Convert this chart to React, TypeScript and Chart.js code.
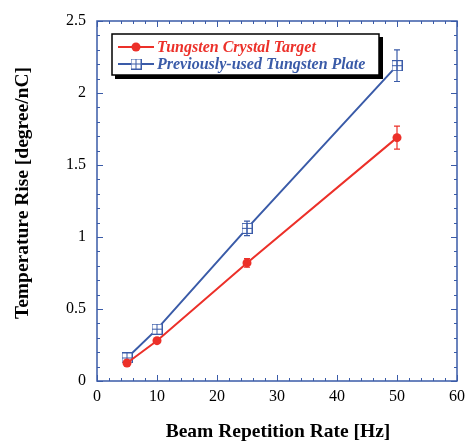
import React, { useEffect, useRef } from "react";
import { Chart, registerables } from "chart.js";
Chart.register(...registerables);

const rates = [5, 10, 25, 50];
const crystalRise = [0.125, 0.28, 0.82, 1.69];
const crystalErr = [0, 0, 0.03, 0.08];
const plateRise = [0.16, 0.36, 1.06, 2.19];
const plateErr = [0, 0, 0.05, 0.11];
const seriesNames = ["Tungsten Crystal Target", "Previously-used Tungsten Plate"];
const xTitle = "Beam Repetition Rate [Hz]";
const yTitle = "Temperature Rise [degree/nC]";

const RED = "#ec3029";
const BLUE = "#3a5ba8";
const SERIF = "'Liberation Serif', 'Times New Roman', serif";

function makeSquare(): HTMLCanvasElement {
  const c = document.createElement("canvas");
  c.width = 11;
  c.height = 11;
  const g = c.getContext("2d")!;
  g.fillStyle = "#ffffff";
  g.fillRect(0, 0, 11, 11);
  g.strokeStyle = BLUE;
  g.lineWidth = 1;
  g.strokeRect(0.5, 0.5, 10, 10);
  g.beginPath();
  g.moveTo(5.5, 0.5);
  g.lineTo(5.5, 10.5);
  g.moveTo(0.5, 5.5);
  g.lineTo(10.5, 5.5);
  g.stroke();
  return c;
}

export default function App() {
  const ref = useRef<HTMLCanvasElement>(null);
  useEffect(() => {
    const square = makeSquare();
    const errs = [crystalErr, plateErr];
    const colors = [RED, BLUE];

    const framePlugin = {
      id: "frame",
      afterDatasetsDraw(chart: any) {
        const ctx = chart.ctx;
        const xs = chart.scales.x;
        const ys = chart.scales.y;
        ctx.save();
        errs.forEach((arr, di) => {
          const vals = di === 0 ? crystalRise : plateRise;
          ctx.strokeStyle = colors[di];
          ctx.lineWidth = 1.2;
          arr.forEach((e, i) => {
            if (!e) return;
            const x = xs.getPixelForValue(rates[i]);
            const y1 = ys.getPixelForValue(vals[i] - e);
            const y2 = ys.getPixelForValue(vals[i] + e);
            ctx.beginPath();
            ctx.moveTo(x, y1);
            ctx.lineTo(x, y2);
            ctx.moveTo(x - 3, y1);
            ctx.lineTo(x + 3, y1);
            ctx.moveTo(x - 3, y2);
            ctx.lineTo(x + 3, y2);
            ctx.stroke();
          });
        });
        ctx.restore();
      },
      afterDraw(chart: any) {
        const ctx = chart.ctx;
        const { left, right, top, bottom } = chart.chartArea;
        const xs = chart.scales.x;
        const ys = chart.scales.y;
        ctx.save();
        ctx.strokeStyle = BLUE;
        ctx.lineWidth = 1.5;
        ctx.strokeRect(left, top, right - left, bottom - top);
        ctx.lineWidth = 1;
        ctx.beginPath();
        for (let v = 0; v <= 60; v += 2) {
          const x = Math.round(xs.getPixelForValue(v)) + 0.5;
          const len = v % 10 === 0 ? 6 : 3;
          ctx.moveTo(x, bottom);
          ctx.lineTo(x, bottom - len);
          ctx.moveTo(x, top);
          ctx.lineTo(x, top + len);
        }
        for (let k = 0; k <= 25; k++) {
          const v = k / 10;
          const y = Math.round(ys.getPixelForValue(v)) + 0.5;
          const len = k % 5 === 0 ? 6 : 3;
          ctx.moveTo(left, y);
          ctx.lineTo(left + len, y);
          ctx.moveTo(right, y);
          ctx.lineTo(right - len, y);
        }
        ctx.stroke();

        // axis titles
        ctx.fillStyle = "#000";
        ctx.font = `bold 19.5px ${SERIF}`;
        ctx.textAlign = "center";
        ctx.textBaseline = "alphabetic";
        ctx.fillText(xTitle, (left + right) / 2 + 1, 437);
        ctx.save();
        ctx.translate(28, 193);
        ctx.rotate(-Math.PI / 2);
        ctx.fillText(yTitle, 0, 0);
        ctx.restore();

        // legend
        const bx = 112, by = 34, bw = 267, bh = 41;
        ctx.fillStyle = "#000";
        ctx.fillRect(bx + 3, by + 3, bw + 1, bh + 1);
        ctx.fillStyle = "#fff";
        ctx.fillRect(bx, by, bw, bh);
        ctx.strokeStyle = "#000";
        ctx.lineWidth = 1.5;
        ctx.strokeRect(bx, by, bw, bh);
        const rows = [47, 64];
        ctx.font = `italic bold 16px ${SERIF}`;
        ctx.textAlign = "left";
        ctx.textBaseline = "middle";
        rows.forEach((ry, i) => {
          ctx.strokeStyle = colors[i];
          ctx.lineWidth = 2;
          ctx.beginPath();
          ctx.moveTo(118, ry);
          ctx.lineTo(154, ry);
          ctx.stroke();
          if (i === 0) {
            ctx.fillStyle = RED;
            ctx.beginPath();
            ctx.arc(136, ry, 4.5, 0, Math.PI * 2);
            ctx.fill();
          } else {
            ctx.drawImage(square, 136 - 5.5, ry - 5.5);
          }
          ctx.fillStyle = colors[i];
          ctx.fillText(seriesNames[i], 157, ry + 1);
        });
        ctx.restore();
      },
    };

    const chart = new Chart(ref.current!, {
      type: "line",
      data: {
        datasets: [
          {
            label: seriesNames[0],
            data: rates.map((x, i) => ({ x, y: crystalRise[i] })),
            borderColor: RED,
            backgroundColor: RED,
            borderWidth: 2,
            pointStyle: "circle",
            pointRadius: 4.5,
            pointBorderWidth: 0,
          },
          {
            label: seriesNames[1],
            data: rates.map((x, i) => ({ x, y: plateRise[i] })),
            borderColor: BLUE,
            backgroundColor: BLUE,
            borderWidth: 2,
            pointStyle: square as any,
            pointRadius: 5,
          },
        ],
      },
      options: {
        animation: false,
        responsive: false,
        devicePixelRatio: 1,
        layout: { padding: { left: 0, right: 13, top: 21, bottom: 0 } },
        plugins: { legend: { display: false }, tooltip: { enabled: false } },
        scales: {
          x: {
            type: "linear",
            min: 0,
            max: 60,
            afterFit: (s: any) => {
              s.height = 60;
            },
            ticks: {
              stepSize: 10,
              padding: -2,
              color: "#000",
              font: { family: SERIF, size: 16 },
              callback: (v: any) => String(v),
              maxRotation: 0,
            },
            grid: { display: false },
            border: { display: false },
          },
          y: {
            type: "linear",
            min: 0,
            max: 2.5,
            afterFit: (s: any) => {
              s.width = 97;
            },
            ticks: {
              stepSize: 0.5,
              padding: 3,
              color: "#000",
              font: { family: SERIF, size: 16 },
              callback: (v: any) => String(v),
            },
            grid: { display: false },
            border: { display: false },
          },
        },
      },
      plugins: [framePlugin],
    });
    return () => chart.destroy();
  }, []);

  return (
    <div style={{ position: "absolute", left: 0, top: 0, width: 470, height: 441, background: "#fff" }}>
      <canvas ref={ref} width={470} height={441} style={{ display: "block" }} />
    </div>
  );
}
